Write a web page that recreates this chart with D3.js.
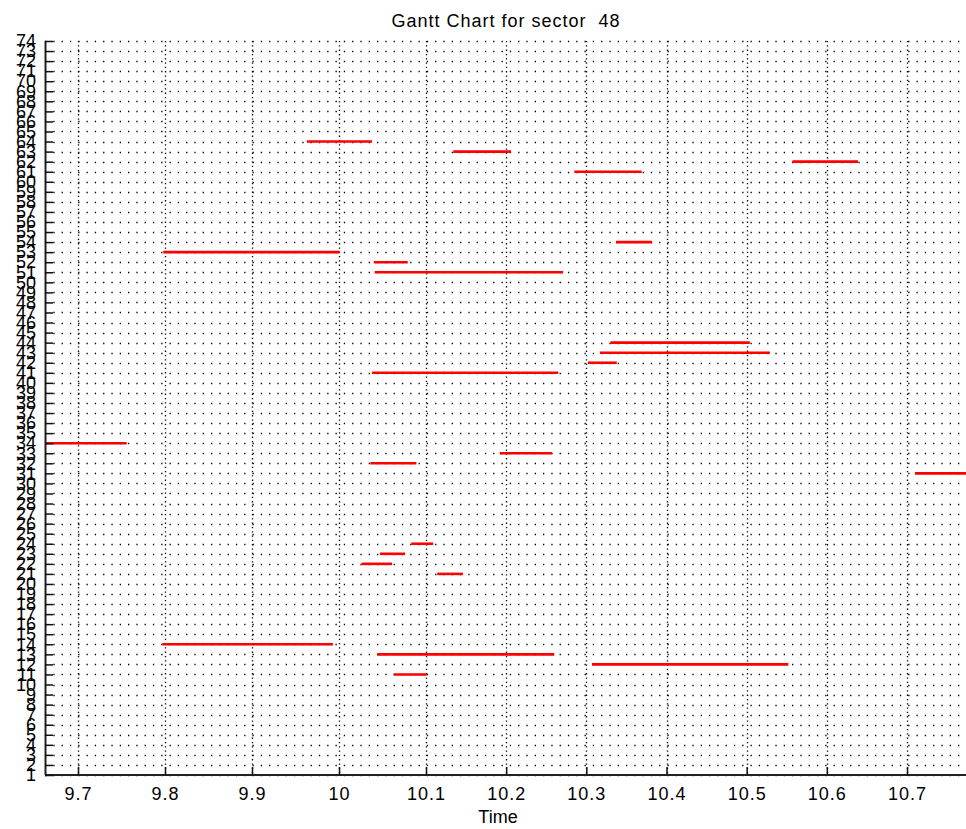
<!DOCTYPE html>
<html>
<head>
<meta charset="utf-8">
<script src="https://cdn.jsdelivr.net/npm/d3@7"></script>
<style>
  body { margin: 0; background: #fff; }
  text { font-family: "Liberation Sans", Arial, sans-serif; fill: #000; }
</style>
</head>
<body>
<div id="chart"></div>
<script>
// task rows (machine / job index) and their start / end times
var rows   = [64, 63, 62, 61, 54, 53, 52, 51, 44, 43, 42, 41, 34, 33, 32, 31, 24, 23, 22, 21, 14, 13, 12, 11];
var starts = [9.963, 10.134, 10.557, 10.285, 10.337, 9.798, 10.040, 10.041, 10.330, 10.317, 10.302, 10.038,
              9.650, 10.192, 10.036, 10.710, 10.083, 10.047, 10.026, 10.114, 9.797, 10.044, 10.307, 10.063];
var ends   = [10.038, 10.206, 10.639, 10.369, 10.382, 10.001, 10.079, 10.271, 10.504, 10.529, 10.338, 10.265,
              9.756, 10.257, 10.089, 10.790, 10.109, 10.076, 10.061, 10.146, 9.993, 10.260, 10.552, 10.101];

var xTicks = [9.7, 9.8, 9.9, 10, 10.1, 10.2, 10.3, 10.4, 10.5, 10.6, 10.7];
var yTicks = d3.range(1, 75);

var titleText = "Gantt Chart for sector  48";
var xLabel = "Time";

var W = 966, H = 829;
var margin = { top: 41, right: -1, bottom: 54, left: 45 };
var width = W - margin.left - margin.right;
var height = H - margin.top - margin.bottom;

var data = rows.map(function (r, i) {
    return { row: r, start: starts[i], end: ends[i] };
});

var svg = d3.select("#chart").append("svg")
    .attr("width", W)
    .attr("height", H);

var g = svg.append("g")
    .attr("transform", "translate(" + margin.left + "," + margin.top + ")");

// the picture is slightly stretched, so the time axis has a knot at 10.1
var x = d3.scaleLinear()
    .domain([9.7, 10.1, 10.7])
    .range([33, 381, 862]);

var y = d3.scaleLinear()
    .domain([1, 74])
    .range([height, 0]);

svg.append("defs").append("clipPath")
    .attr("id", "plot-clip")
    .append("rect")
    .attr("width", width)
    .attr("height", height);

// dotted grid
g.append("g")
    .attr("class", "grid-y")
    .selectAll("line")
    .data(yTicks)
    .enter()
    .append("line")
    .attr("x1", 0)
    .attr("x2", width)
    .attr("y1", function (d) { return Math.round(y(d)) + 0.5; })
    .attr("y2", function (d) { return Math.round(y(d)) + 0.5; })
    .attr("stroke", "#000")
    .attr("stroke-width", 1.3)
    .attr("stroke-dasharray", "1.3,7");

g.append("g")
    .attr("class", "grid-x")
    .selectAll("line")
    .data(xTicks)
    .enter()
    .append("line")
    .attr("x1", function (d) { return Math.round(x(d)) + 0.5; })
    .attr("x2", function (d) { return Math.round(x(d)) + 0.5; })
    .attr("y1", 0)
    .attr("y2", height)
    .attr("stroke", "#000")
    .attr("stroke-width", 1.3)
    .attr("stroke-dasharray", "1.3,3");

// bars
g.append("g")
    .attr("clip-path", "url(#plot-clip)")
    .selectAll("line")
    .data(data)
    .enter()
    .append("line")
    .attr("class", "bar")
    .attr("x1", function (d) { return x(d.start); })
    .attr("x2", function (d) { return x(d.end); })
    .attr("y1", function (d) { return y(d.row); })
    .attr("y2", function (d) { return y(d.row); })
    .attr("stroke", "#ff0000")
    .attr("stroke-width", 2.6);

// axes
var xAxis = d3.axisBottom(x)
    .tickValues(xTicks)
    .tickSize(-8)
    .tickPadding(12)
    .tickFormat(function (d) { return String(+d.toFixed(1)); });

var yAxis = d3.axisLeft(y)
    .tickValues(yTicks)
    .tickSize(-8)
    .tickPadding(9)
    .tickFormat(d3.format("d"));

var gx = g.append("g")
    .attr("class", "x-axis")
    .attr("transform", "translate(0," + height + ")")
    .call(xAxis);

var gy = g.append("g")
    .attr("class", "y-axis")
    .call(yAxis);

[gx, gy].forEach(function (a) {
    a.select(".domain").attr("stroke", "#222").attr("stroke-width", 2);
    a.selectAll(".tick line").attr("stroke", "#111").attr("stroke-width", 1.5);
    a.selectAll(".tick text")
        .attr("fill", "#000")
        .style("font-size", "18px")
        .style("font-family", "'Liberation Sans', Arial, sans-serif");
});
gx.selectAll(".tick text").style("letter-spacing", "1px");
gy.select(".domain").attr("d", "M0.5," + height + "V0");
gx.select(".domain").attr("d", "M0,0H" + width);

g.append("text")
    .attr("class", "x-label")
    .attr("x", 453)
    .attr("y", height + 48)
    .attr("text-anchor", "middle")
    .style("font-size", "18px")
    .text(xLabel);

svg.append("text")
    .attr("class", "title")
    .attr("x", 506)
    .attr("y", 27)
    .attr("text-anchor", "middle")
    .style("font-size", "18px")
    .style("letter-spacing", "1px")
    .style("white-space", "pre")
    .text(titleText);
</script>
</body>
</html>
